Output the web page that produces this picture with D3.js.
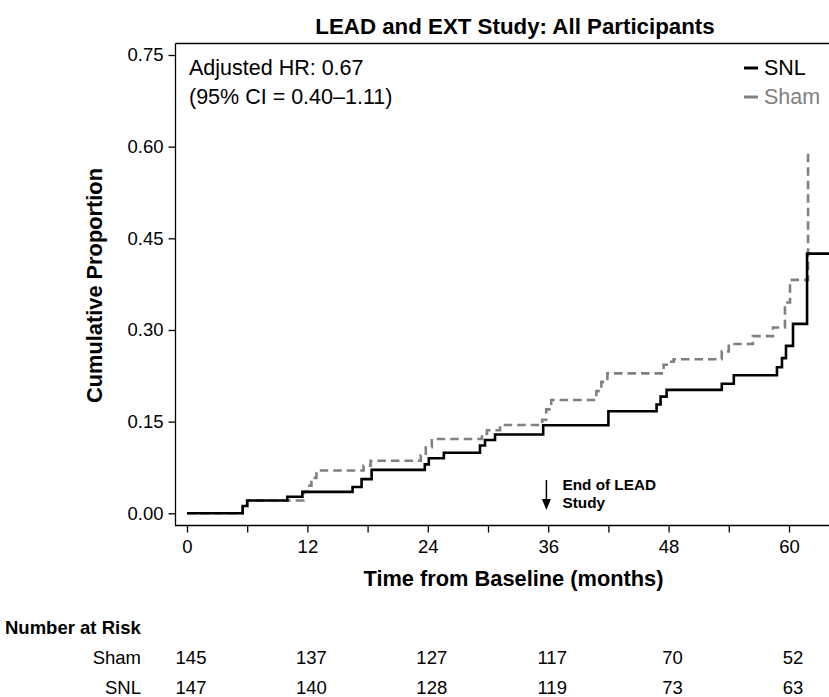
<!DOCTYPE html>
<html><head><meta charset="utf-8">
<script src="https://cdn.jsdelivr.net/npm/d3@7"></script>
<style>body{margin:0;background:#fff}svg{display:block;font-family:"Liberation Sans",Arial,sans-serif}</style>
</head><body><svg id="c" width="829" height="697"></svg>
<script>
const snlTimes  = [0, 5.55, 6.0, 10.0, 11.5, 16.5, 17.4, 18.4, 23.7, 24.1, 25.6, 29.2, 29.7, 30.7, 35.5, 42.0, 46.8, 47.2, 47.8, 53.3, 54.5, 58.8, 59.3, 59.7, 60.4, 61.8, 65];
const snlValues = [0, 0.012, 0.021, 0.027, 0.035, 0.043, 0.056, 0.071, 0.080, 0.090, 0.099, 0.111, 0.120, 0.129, 0.144, 0.167, 0.178, 0.191, 0.202, 0.212, 0.226, 0.239, 0.254, 0.274, 0.310, 0.425, 0.425];
const shamTimes  = [0, 5.55, 6.0, 11.6, 12.0, 12.4, 12.9, 17.6, 18.3, 23.3, 23.8, 24.4, 29.4, 29.9, 31.2, 35.4, 35.8, 36.3, 40.8, 41.3, 41.9, 47.5, 48.0, 48.5, 53.3, 54.0, 56.4, 58.4, 59.6, 60.1, 61.9, 62.2];
const shamValues = [0, 0.012, 0.021, 0.035, 0.045, 0.058, 0.070, 0.078, 0.086, 0.095, 0.108, 0.1215, 0.130, 0.136, 0.1445, 0.153, 0.170, 0.1855, 0.200, 0.215, 0.229, 0.243, 0.248, 0.252, 0.265, 0.277, 0.290, 0.304, 0.345, 0.382, 0.589, 0.589];
const yTicks = [0, 0.15, 0.30, 0.45, 0.60, 0.75];
const xTicks = [0, 6, 12, 18, 24, 30, 36, 42, 48, 54, 60, 66];
const xLabels = [0, 12, 24, 36, 48, 60];
const riskTimes = [0, 12, 24, 36, 48, 60];
const riskSham = [145, 137, 127, 117, 70, 52];
const riskSNL  = [147, 140, 128, 119, 73, 63];

(function(){
const svg = d3.select("#c");
const x = d3.scaleLinear().domain([0, 60]).range([187, 789]);
const y = d3.scaleLinear().domain([0, 0.75]).range([513.3, 55]);
const L = 175.5, B = 525.5, T = 43.5, R = 860;
const FT = 18.5, FA = 21.5, FB = 21.8;

svg.append("path").attr("d", `M${L},${T}H${R}M${L},${T}V${B}H${R}`)
  .attr("fill","none").attr("stroke","#000").attr("stroke-width",1.3);

const ya = svg.append("g").attr("transform",`translate(${L},0)`)
  .call(d3.axisLeft(y).tickValues(yTicks).tickFormat(d3.format(".2f")).tickSize(7).tickSizeOuter(0));
ya.select(".domain").remove();
ya.selectAll("text").attr("font-size",FT).attr("font-family","Liberation Sans, Arial").attr("fill","#000").attr("x",-12);
ya.selectAll("line").attr("stroke-width",1.3);

const xa = svg.append("g").attr("transform",`translate(0,${B})`)
  .call(d3.axisBottom(x).tickValues(xTicks).tickFormat(d => xLabels.includes(d) ? d : "").tickSize(7).tickSizeOuter(0));
xa.select(".domain").remove();
xa.selectAll("text").attr("font-size",FT).attr("font-family","Liberation Sans, Arial").attr("fill","#000").attr("y",12).attr("dy","0.85em");
xa.selectAll("line").attr("stroke-width",1.3);

svg.append("clipPath").attr("id","pc").append("rect").attr("x",L).attr("y",T).attr("width",R-L).attr("height",B-T);

const line = d3.line().x(d=>x(d[0])).y(d=>y(d[1])).curve(d3.curveStepAfter);
const g = svg.append("g").attr("clip-path","url(#pc)");
g.append("path").attr("d", line(shamTimes.map((t,i)=>[t,shamValues[i]])))
  .attr("fill","none").attr("stroke","#808080").attr("stroke-width",2.6).attr("stroke-dasharray","8.5,5");
g.append("path").attr("d", line(snlTimes.map((t,i)=>[t,snlValues[i]])))
  .attr("fill","none").attr("stroke","#000").attr("stroke-width",2.6);

svg.append("text").attr("x",515).attr("y",34).attr("text-anchor","middle").attr("font-weight","bold").attr("font-size",22.3).text("LEAD and EXT Study: All Participants");
svg.append("text").attr("x",513.5).attr("y",586).attr("text-anchor","middle").attr("font-weight","bold").attr("font-size",FB).text("Time from Baseline (months)");
svg.append("text").attr("transform","translate(102,285.5) rotate(-90)").attr("text-anchor","middle").attr("font-weight","bold").attr("font-size",FB).text("Cumulative Proportion");

svg.append("text").attr("x",189).attr("y",75).attr("font-size",FA).text("Adjusted HR: 0.67");
svg.append("text").attr("x",189).attr("y",104).attr("font-size",FA).text("(95% CI = 0.40\u20131.11)");

svg.append("line").attr("x1",744).attr("x2",758).attr("y1",68).attr("y2",68).attr("stroke","#000").attr("stroke-width",3);
svg.append("text").attr("x",764).attr("y",75).attr("font-size",FA).text("SNL");
svg.append("line").attr("x1",744).attr("x2",758).attr("y1",97).attr("y2",97).attr("stroke","#808080").attr("stroke-width",3);
svg.append("text").attr("x",764).attr("y",104).attr("font-size",FA).attr("fill","#808080").text("Sham");

svg.append("line").attr("x1",x(36)-1.8).attr("x2",x(36)-1.8).attr("y1",480).attr("y2",500).attr("stroke","#000").attr("stroke-width",1.5);
svg.append("path").attr("d",`M${x(36)-6.3},499L${x(36)+2.7},499L${x(36)-1.8},510Z`).attr("fill","#000");
svg.append("text").attr("x",562.5).attr("y",490).attr("font-weight","bold").attr("font-size",15.3).text("End of LEAD");
svg.append("text").attr("x",562.5).attr("y",508).attr("font-weight","bold").attr("font-size",15.3).text("Study");

svg.append("text").attr("x",5).attr("y",634).attr("font-weight","bold").attr("font-size",18.5).text("Number at Risk");
svg.append("text").attr("x",141).attr("y",664).attr("text-anchor","end").attr("font-size",FT).text("Sham");
svg.append("text").attr("x",141).attr("y",694).attr("text-anchor","end").attr("font-size",FT).text("SNL");
svg.selectAll(".rs").data(riskTimes).enter().append("text").attr("x",d=>x(d)+4).attr("text-anchor","middle").attr("y",664).attr("font-size",FT).text((d,i)=>riskSham[i]);
svg.selectAll(".rn").data(riskTimes).enter().append("text").attr("x",d=>x(d)+4).attr("text-anchor","middle").attr("y",694).attr("font-size",FT).text((d,i)=>riskSNL[i]);
})();
</script></body></html>
